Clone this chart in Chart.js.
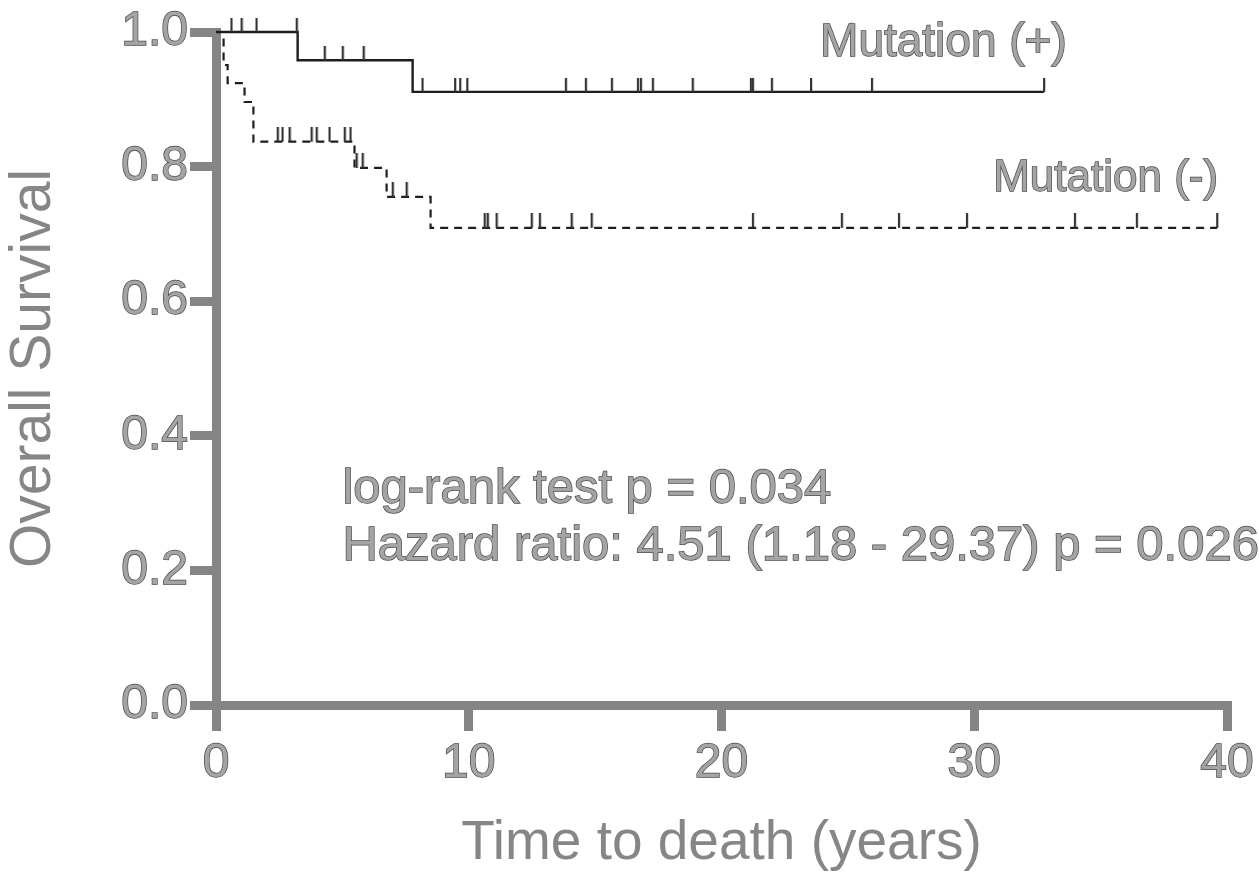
<!DOCTYPE html>
<html><head><meta charset="utf-8">
<script src="https://cdn.jsdelivr.net/npm/chart.js@4.4.1/dist/chart.umd.min.js"></script>
<style>html,body{margin:0;padding:0;background:#fff}canvas{display:block}</style>
</head><body>
<canvas id="c" width="1259" height="879"></canvas>
<script>
// ---- data ----
const xTickValues = [0, 10, 20, 30, 40];
const yTickValues = [0.0, 0.2, 0.4, 0.6, 0.8, 1.0];

// Mutation (+): event times and survival after each event
const posTimes = [0, 3.23, 7.78, 32.76];
const posSurv  = [1.0, 0.958, 0.911, 0.911];
const posCensor = [0.61, 1.01, 1.60, 3.19, 4.30, 5.01, 5.84, 8.17, 9.46, 9.66, 9.94,
  13.84, 14.63, 15.66, 16.69, 16.81, 17.28, 18.86, 21.16, 21.24, 21.99, 23.54, 25.95, 32.76];

// Mutation (-)
const negTimes = [0, 0.30, 0.46, 1.13, 1.48, 5.48, 6.75, 8.49, 39.61];
const negSurv  = [1.0, 0.951, 0.924, 0.896, 0.837, 0.798, 0.755, 0.709, 0.709];
const negCensor = [2.44, 2.63, 2.91, 3.78, 3.98, 4.49, 5.09, 5.32, 5.56, 5.80, 6.99, 7.54,
  10.63, 10.75, 11.10, 12.49, 12.81, 14.07, 14.86, 21.24, 24.76, 27.02, 29.71, 33.98, 36.43, 39.61];

const labelPos = 'Mutation (+)';
const labelNeg = 'Mutation (-)';
const statLine1 = 'log-rank test p = 0.034';
const statLine2 = 'Hazard ratio: 4.51 (1.18 - 29.37) p = 0.026';
const xTitle = 'Time to death (years)';
const yTitle = 'Overall Survival';

// ---- helpers ----
function stepAt(times, surv, t) {
  let v = surv[0];
  for (let i = 0; i < times.length; i++) if (times[i] <= t) v = surv[i];
  return v;
}
const curve = (times, surv) => times.map((t, i) => ({x: t, y: surv[i]}));
const censorPts = (c, times, surv) => c.map(t => ({x: t, y: stepAt(times, surv, t)}));

function tickMark(color, h) {
  const cv = document.createElement('canvas');
  cv.width = 4; cv.height = h * 2;
  const g = cv.getContext('2d');
  g.fillStyle = color;
  g.fillRect(1, 0, 2.2, h);
  return cv;
}

const FONT = '"Liberation Sans", Arial, sans-serif';
const textFill = '#a4a4a4';
const textStroke = '#4a4a4a';
const axisGray = '#858585';

const notesPlugin = {
  id: 'notes',
  afterDatasetsDraw(chart) {
    const {ctx, scales: {x, y}} = chart;
    const items = [
      {t: labelPos, vx: 23.9, vy: 0.983, size: 46},
      {t: labelNeg, vx: 30.75, vy: 0.782, size: 44},
      {t: statLine1, vx: 5.0, vy: 0.320, size: 49},
      {t: statLine2, vx: 5.0, vy: 0.236, size: 49},
    ];
    ctx.save();
    ctx.textBaseline = 'middle';
    ctx.textAlign = 'left';
    for (const it of items) {
      ctx.font = it.size + 'px ' + FONT;
      const px = x.getPixelForValue(it.vx), py = y.getPixelForValue(it.vy);
      ctx.lineWidth = 1.4; ctx.strokeStyle = textStroke;
      ctx.strokeText(it.t, px, py);
      ctx.fillStyle = textFill;
      ctx.fillText(it.t, px, py);
    }
    ctx.restore();
  }
};

new Chart(document.getElementById('c'), {
  type: 'scatter',
  data: {
    datasets: [
      {label: labelNeg, data: curve(negTimes, negSurv), showLine: true, stepped: true,
       borderColor: '#1e1e1e', borderWidth: 2.2, borderDash: [8, 6], pointRadius: 0, order: 2, clip: false},
      {label: labelPos, data: curve(posTimes, posSurv), showLine: true, stepped: true,
       borderColor: '#1e1e1e', borderWidth: 2.4, pointRadius: 0, order: 1, clip: false},
      {label: 'neg censored', data: censorPts(negCensor, negTimes, negSurv), showLine: false,
       pointStyle: tickMark('#333', 15), pointRadius: 8, clip: false},
      {label: 'pos censored', data: censorPts(posCensor, posTimes, posSurv), showLine: false,
       pointStyle: tickMark('#333', 14), pointRadius: 8, clip: false},
    ]
  },
  options: {
    responsive: false, animation: false, devicePixelRatio: 1,
    layout: {padding: {left: 0, right: 32, top: 32, bottom: 0}},
    plugins: {legend: {display: false}, tooltip: {enabled: false}},
    scales: {
      x: {
        type: 'linear', min: 0, max: 40, offset: false,
        afterBuildTicks(s) { s.ticks = xTickValues.map(v => ({value: v})); },
        afterFit(s) { s.height = 174; },
        grid: {drawOnChartArea: false, drawTicks: true, tickLength: 26, color: axisGray, lineWidth: 9},
        border: {display: true, color: axisGray, width: 9},
        ticks: {padding: 4, color: textFill, textStrokeColor: textStroke, textStrokeWidth: 1.4,
                font: {family: FONT, size: 48}, maxRotation: 0,
                callback: v => String(v)},
        title: {display: true, text: xTitle, color: '#868686', padding: {top: 0, bottom: 2},
                font: {family: FONT, size: 55}}
      },
      y: {
        type: 'linear', min: 0, max: 1, offset: false,
        afterBuildTicks(s) { s.ticks = yTickValues.map(v => ({value: v})); },
        afterFit(s) { s.width = 216; },
        grid: {drawOnChartArea: false, drawTicks: true, tickLength: 26, color: axisGray, lineWidth: 9},
        border: {display: true, color: axisGray, width: 9},
        ticks: {padding: 2, color: textFill, textStrokeColor: textStroke, textStrokeWidth: 1.4,
                font: {family: FONT, size: 48},
                callback: v => Number(v).toFixed(1)},
        title: {display: true, text: yTitle, color: '#868686', padding: {top: 0, bottom: 0},
                font: {family: FONT, size: 57}}
      }
    }
  },
  plugins: [notesPlugin]
});
</script>
</body></html>
